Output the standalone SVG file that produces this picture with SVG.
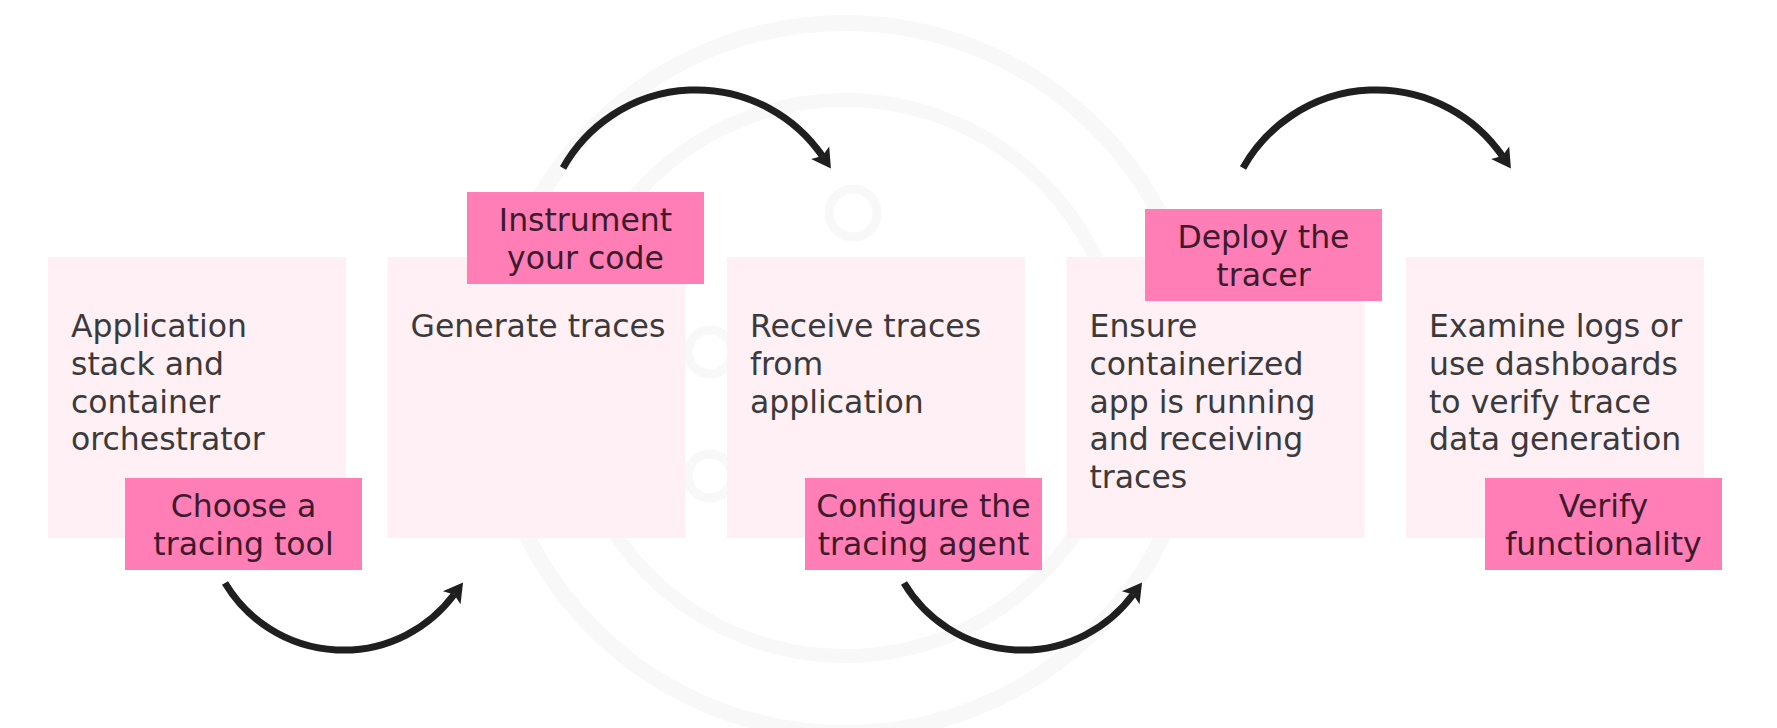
<svg xmlns="http://www.w3.org/2000/svg" width="1777" height="728" viewBox="0 0 1777 728">
  <style>
    .wm { fill: none; stroke: #f8f8f8; }
    .box { fill: #fff0f6; }
    .lbl { fill: #ff7eb6; }
    .bt { font-family: "DejaVu Sans", "Noto Sans", sans-serif; font-size: 31.5px; fill: #3a3a3a; }
    .lt { font-family: "DejaVu Sans", "Noto Sans", sans-serif; font-size: 31.5px; fill: #3d1a2c; text-anchor: middle; }
    .arc { fill: none; stroke: #1f1f1f; stroke-width: 7; marker-end: url(#head); }
  </style>
  <defs>
    <marker id="head" markerUnits="userSpaceOnUse" markerWidth="24" markerHeight="24" refX="4" refY="11" orient="auto" overflow="visible">
      <path d="M0,0 L19,11 L0,22 L4,11 Z" fill="#1f1f1f"/>
    </marker>
  </defs>
  <rect width="1777" height="728" fill="#ffffff"/>

  <g id="watermark">
    <circle class="wm" cx="845" cy="378" r="355" stroke-width="16"/>
    <circle class="wm" cx="845" cy="378" r="278" stroke-width="14"/>
    <circle class="wm" cx="853" cy="213" r="24" stroke-width="9"/>
    <circle class="wm" cx="710" cy="352" r="22" stroke-width="9"/>
    <circle class="wm" cx="710" cy="476" r="22" stroke-width="9"/>
  </g>

  <g id="step1">
    <rect class="box" x="48" y="257" width="298" height="281"/>
    <text class="bt" x="71"><tspan x="71" y="337">Application</tspan><tspan x="71" y="375">stack and</tspan><tspan x="71" y="412.5">container</tspan><tspan x="71" y="450">orchestrator</tspan></text>
  </g>
  <g id="step2">
    <rect class="box" x="387.5" y="257" width="298" height="281"/>
    <text class="bt" x="410.5" y="337">Generate traces</text>
  </g>
  <g id="step3">
    <rect class="box" x="727" y="257" width="298" height="281"/>
    <text class="bt"><tspan x="750" y="337">Receive traces</tspan><tspan x="750" y="375">from</tspan><tspan x="750" y="412.5">application</tspan></text>
  </g>
  <g id="step4">
    <rect class="box" x="1066.5" y="257" width="298" height="281"/>
    <text class="bt"><tspan x="1089.5" y="337">Ensure</tspan><tspan x="1089.5" y="375">containerized</tspan><tspan x="1089.5" y="412.5">app is running</tspan><tspan x="1089.5" y="450">and receiving</tspan><tspan x="1089.5" y="487.5">traces</tspan></text>
  </g>
  <g id="step5">
    <rect class="box" x="1406" y="257" width="298" height="281"/>
    <text class="bt"><tspan x="1429" y="337">Examine logs or</tspan><tspan x="1429" y="375">use dashboards</tspan><tspan x="1429" y="412.5">to verify trace</tspan><tspan x="1429" y="450">data generation</tspan></text>
  </g>

  <g id="label-choose">
    <rect class="lbl" x="125" y="478" width="237" height="92"/>
    <text class="lt"><tspan x="243.5" y="517">Choose a</tspan><tspan x="243.5" y="555">tracing tool</tspan></text>
  </g>
  <g id="label-instrument">
    <rect class="lbl" x="467" y="192" width="237" height="92"/>
    <text class="lt"><tspan x="585.5" y="231">Instrument</tspan><tspan x="585.5" y="269">your code</tspan></text>
  </g>
  <g id="label-configure">
    <rect class="lbl" x="805" y="478" width="237" height="92"/>
    <text class="lt"><tspan x="923.5" y="517">Configure the</tspan><tspan x="923.5" y="555">tracing agent</tspan></text>
  </g>
  <g id="label-deploy">
    <rect class="lbl" x="1145" y="209" width="237" height="92"/>
    <text class="lt"><tspan x="1263.5" y="248">Deploy the</tspan><tspan x="1263.5" y="286">tracer</tspan></text>
  </g>
  <g id="label-verify">
    <rect class="lbl" x="1485" y="478" width="237" height="92"/>
    <text class="lt"><tspan x="1603.5" y="517">Verify</tspan><tspan x="1603.5" y="555">functionality</tspan></text>
  </g>

  <g id="connectors">
    <path class="arc" d="M225,583 A138,138 0 0 0 454.1,594.5"/>
    <path class="arc" d="M563,168 A153,153 0 0 1 822.4,156.1"/>
    <path class="arc" d="M904,583 A138,138 0 0 0 1133.1,594.5"/>
    <path class="arc" d="M1243,168 A153,153 0 0 1 1502.4,156.1"/>
  </g>
</svg>
